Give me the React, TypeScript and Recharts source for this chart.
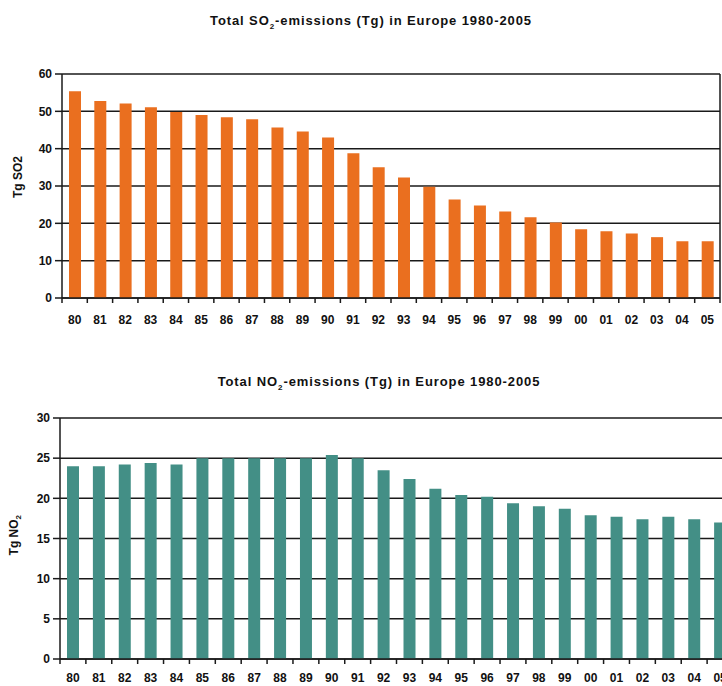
import { BarChart, Bar, XAxis, YAxis, CartesianGrid } from 'recharts';

const years = ['80', '81', '82', '83', '84', '85', '86', '87', '88', '89', '90', '91', '92', '93', '94', '95', '96', '97', '98', '99', '00', '01', '02', '03', '04', '05'];
const so2 = [55.4, 52.8, 52.1, 51.1, 49.8, 49.0, 48.4, 47.9, 45.7, 44.6, 43.0, 38.8, 35.0, 32.3, 29.8, 26.4, 24.8, 23.2, 21.6, 20.2, 18.4, 17.9, 17.3, 16.3, 15.2, 15.2];
const no2 = [24.0, 24.0, 24.2, 24.4, 24.2, 25.0, 25.0, 25.0, 25.0, 25.0, 25.4, 25.0, 23.5, 22.4, 21.2, 20.4, 20.2, 19.4, 19.0, 18.7, 17.9, 17.7, 17.4, 17.7, 17.4, 17.0];
const so2Ticks = [0, 10, 20, 30, 40, 50, 60];
const no2Ticks = [0, 5, 10, 15, 20, 25, 30];

const FONT = '"Liberation Sans", Arial, sans-serif';
const AXIS = '#1a1a1a';

type TickProps = { x?: number; y?: number; payload?: any; index?: number };

function makeTick(plotBottom: number, bandWidth: number, count: number, labelOffset: number) {
  return ({ x = 0, payload, index = 0 }: TickProps) => (
    <g>
      <line x1={x - bandWidth / 2} x2={x - bandWidth / 2} y1={plotBottom} y2={plotBottom + 5} stroke={AXIS} strokeWidth={1.5} />
      {index === count - 1 && (
        <line x1={x + bandWidth / 2} x2={x + bandWidth / 2} y1={plotBottom} y2={plotBottom + 5} stroke={AXIS} strokeWidth={1.5} />
      )}
      <text x={x} y={plotBottom + labelOffset} textAnchor="middle" fontSize={12} fontWeight="bold" fill="#111" fontFamily={FONT}>
        {payload.value}
      </text>
    </g>
  );
}

type PanelProps = {
  values: number[];
  ticks: number[];
  color: string;
  top: number;
  width: number;
  height: number;
  marginTop: number;
  plotLeft: number;
  plotRight: number;
  plotBottom: number;
  labelOffset: number;
  borderRight: boolean;
};

function Panel({ values, ticks, color, top, width, height, marginTop, plotLeft, plotRight, plotBottom, labelOffset, borderRight }: PanelProps) {
  const data = years.map((y, i) => ({ year: y, value: values[i] }));
  const bandWidth = (plotRight - plotLeft) / years.length;
  const Tick = makeTick(plotBottom, bandWidth, years.length, labelOffset);
  return (
    <div style={{ position: 'absolute', left: 0, top, width, height }}>
      <BarChart
        width={width}
        height={height}
        data={data}
        margin={{ top: marginTop, right: width - plotRight, bottom: 0, left: 0 }}
        barCategoryGap={0}
      >
        <CartesianGrid
          stroke={AXIS}
          strokeWidth={1.5}
          vertical={borderRight}
          verticalPoints={borderRight ? [plotRight] : undefined}
        />
        <XAxis
          dataKey="year"
          height={height - plotBottom}
          interval={0}
          tickLine={false}
          axisLine={{ stroke: AXIS, strokeWidth: 1.5 }}
          tick={<Tick />}
        />
        <YAxis
          width={plotLeft}
          domain={[ticks[0], ticks[ticks.length - 1]]}
          ticks={ticks}
          interval={0}
          tickSize={7}
          tickMargin={3}
          tickLine={{ stroke: AXIS, strokeWidth: 1.5 }}
          axisLine={{ stroke: AXIS, strokeWidth: 1.5 }}
          tick={{ fontSize: 12, fontWeight: 'bold', fill: '#111', fontFamily: FONT }}
        />
        <Bar dataKey="value" fill={color} barSize={12} isAnimationActive={false} />
      </BarChart>
    </div>
  );
}

const titleStyle: React.CSSProperties = {
  position: 'absolute',
  width: 722,
  textAlign: 'center',
  fontFamily: FONT,
  fontWeight: 'bold',
  fontSize: 13,
  letterSpacing: 0.9,
  color: '#111',
  whiteSpace: 'nowrap',
};

const yLabelStyle: React.CSSProperties = {
  position: 'absolute',
  width: 120,
  textAlign: 'center',
  fontFamily: FONT,
  fontWeight: 'bold',
  fontSize: 12,
  color: '#111',
  transform: 'rotate(-90deg)',
  whiteSpace: 'nowrap',
};

export default function App() {
  return (
    <div style={{ position: 'absolute', left: 0, top: 0, width: 722, height: 686, overflow: 'hidden', background: '#fff' }}>
      <div style={{ ...titleStyle, left: 10, top: 13 }}>
        Total SO<sub style={{ fontSize: 8 }}>2</sub>-emissions (Tg) in Europe 1980-2005
      </div>
      <div style={{ ...yLabelStyle, left: 18 - 60, top: 170 }}>Tg SO2</div>
      <Panel
        values={so2}
        ticks={so2Ticks}
        color="#EA6F1F"
        top={0}
        width={722}
        height={340}
        marginTop={74}
        plotLeft={62}
        plotRight={720}
        plotBottom={298}
        labelOffset={26}
        borderRight={true}
      />
      <div style={{ ...titleStyle, left: 18, top: 374 }}>
        Total NO<sub style={{ fontSize: 8 }}>2</sub>-emissions (Tg) in Europe 1980-2005
      </div>
      <div style={{ ...yLabelStyle, left: 15 - 60, top: 527 }}>
        Tg NO<sub style={{ fontSize: 8 }}>2</sub>
      </div>
      <Panel
        values={no2}
        ticks={no2Ticks}
        color="#438F86"
        top={340}
        width={740}
        height={346}
        marginTop={78}
        plotLeft={60}
        plotRight={733}
        plotBottom={319}
        labelOffset={23}
        borderRight={false}
      />
    </div>
  );
}
